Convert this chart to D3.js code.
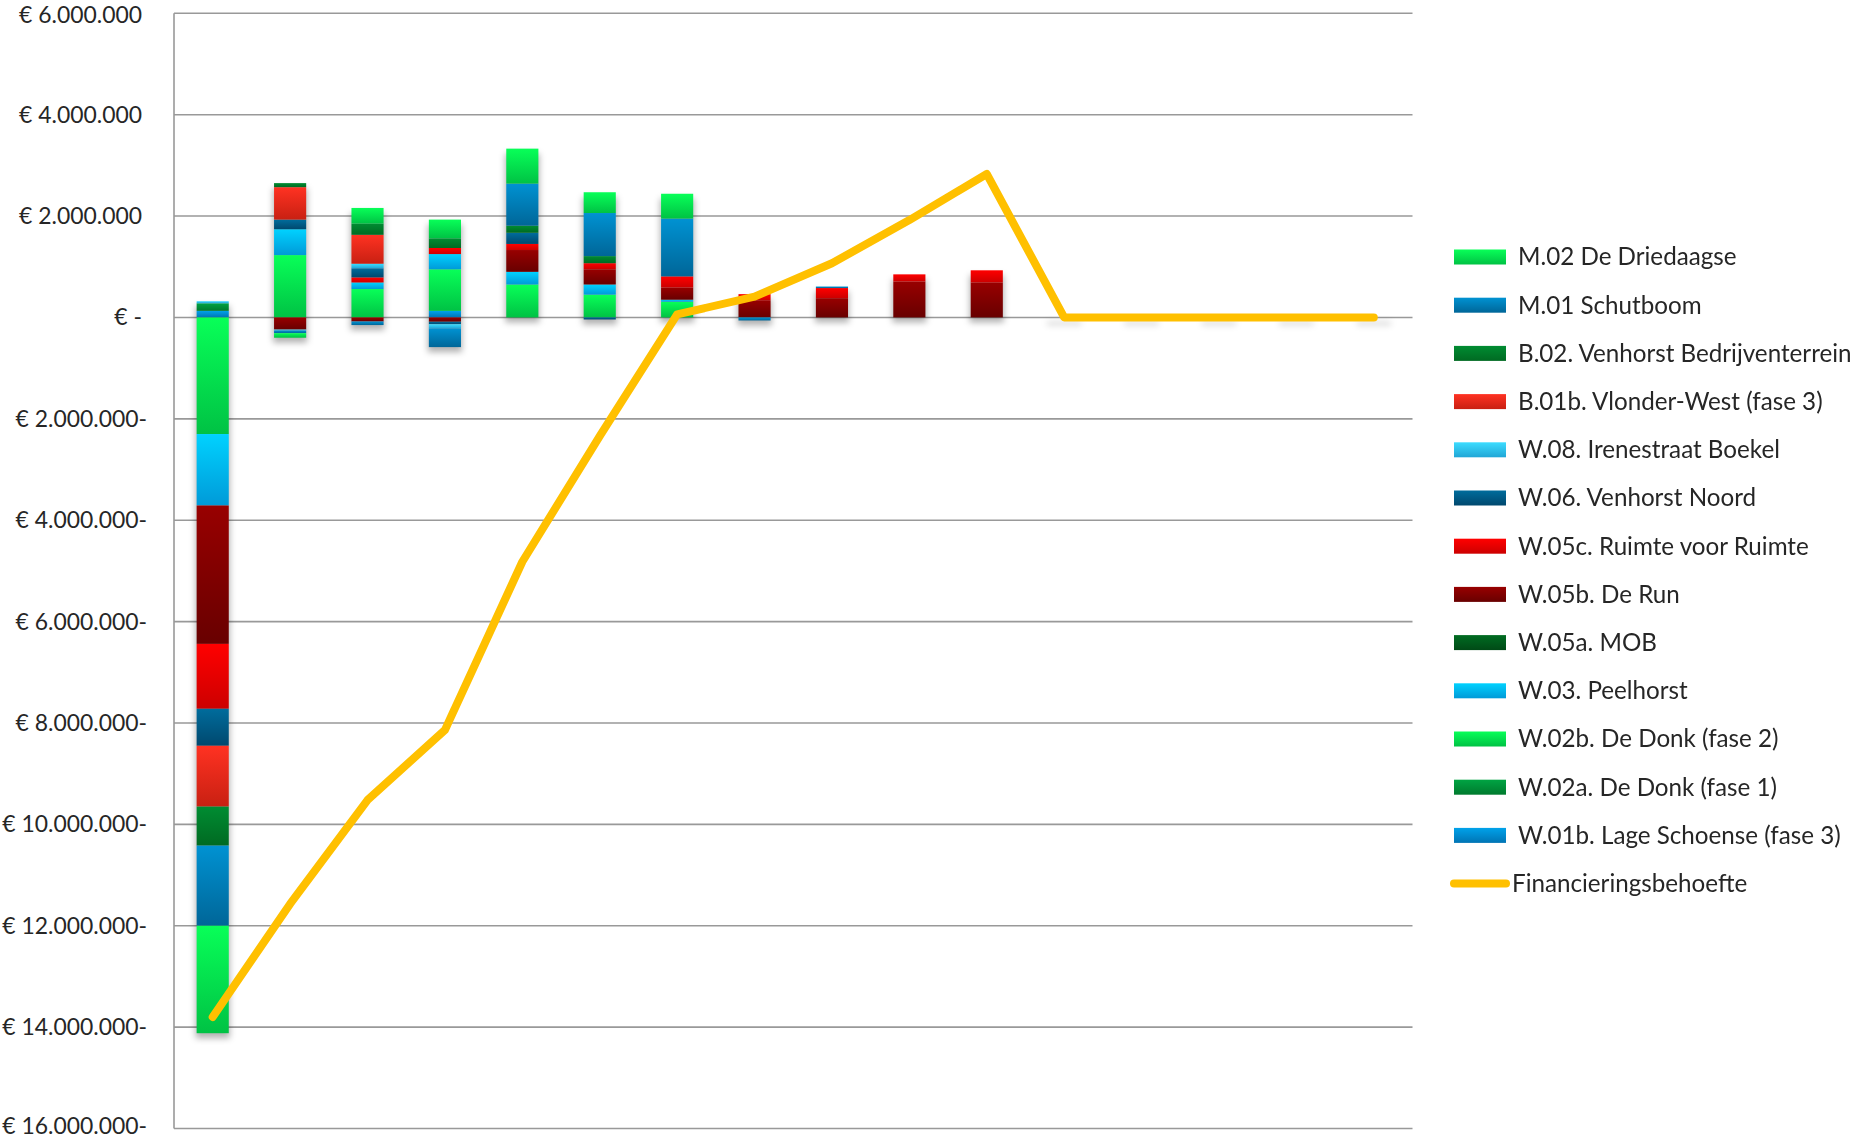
<!DOCTYPE html>
<html>
<head>
<meta charset="utf-8">
<script src="https://cdn.jsdelivr.net/npm/d3@7"></script>
<style>
  html, body { margin: 0; padding: 0; background: #fff; overflow: hidden; }
  svg { display: block; }
  text { font-family: Lato, "Open Sans", sans-serif; fill: #262626; }
</style>
</head>
<body>
<svg id="chart" width="1858" height="1140"></svg>
<script>
// Periods along the horizontal axis (not labelled on the chart)
const periods = ["1","2","3","4","5","6","7","8","9","10","11","12","13","14","15","16"];

// Yearly result per plan, in euro (positive = income, negative = costs)
const W01b = [ 130000,       0,       0,  130000,       0,       0,       0,      0,     0,      0,      0, 0,0,0,0,0];
const W02a = [ 150000,       0,       0,       0,       0,       0,       0,      0,     0,      0,      0, 0,0,0,0,0];
const W02b = [-2300000, 1230000,  560000,  820000,  650000,  450000,  310000,      0,     0,      0,      0, 0,0,0,0,0];
const W03  = [-1410000,  510000,  130000,  300000,  250000,  200000,   40000,      0,     0,      0,      0, 0,0,0,0,0];
const W05a = [       0,       0,       0,       0,       0,       0,       0,      0,     0,      0,      0, 0,0,0,0,0];
const W05b = [-2730000, -240000,  -80000,  -85000,  430000,  300000,  240000, 340000,380000, 710000, 690000, 0,0,0,0,0];
const W05c = [-1280000,       0,  100000,  120000,  120000,  120000,  220000, 120000,200000, 140000, 240000, 0,0,0,0,0];
const W06  = [ -730000,  190000,  180000,  -50000,  220000,  -40000,       0,      0,     0,      0,      0, 0,0,0,0,0];
const W08  = [   40000,  -20000,   90000,  -80000,       0,       0,       0,      0,     0,      0,      0, 0,0,0,0,0];
const B01b = [-1200000,  640000,  570000,       0,       0,       0,       0,      0,     0,      0,      0, 0,0,0,0,0];
const B02  = [ -770000,   80000,  220000,  190000,  140000,  140000,       0,      0,     0,      0,      0, 0,0,0,0,0];
const M01  = [-1580000,  -50000,  -70000, -370000,  830000,  850000, 1140000, -60000, 30000,      0,      0, 0,0,0,0,0];
const M02  = [-2120000,  -90000,  310000,  370000,  690000,  410000,  490000,      0,     0,      0,      0, 0,0,0,0,0];

// Cumulative financing need
const financing = [-13800000, -11570000, -9520000, -8140000, -4820000, -2340000, 60000, 410000, 1070000, 1920000, 2830000, 0, 0, 0, 0, 0];

// Y axis ticks
const yTicks = [6e6, 4e6, 2e6, 0, -2e6, -4e6, -6e6, -8e6, -10e6, -12e6, -14e6, -16e6];

// Series in stacking order, with names and gradient colours
const seriesKeys   = ["W01b","W02a","W02b","W03","W05a","W05b","W05c","W06","W08","B01b","B02","M01","M02"];
const seriesValues = [W01b, W02a, W02b, W03, W05a, W05b, W05c, W06, W08, B01b, B02, M01, M02];
const seriesNames  = [
  "W.01b. Lage Schoense (fase 3)", "W.02a. De Donk (fase 1)", "W.02b. De Donk (fase 2)",
  "W.03. Peelhorst", "W.05a. MOB", "W.05b. De Run", "W.05c. Ruimte voor Ruimte",
  "W.06. Venhorst Noord", "W.08. Irenestraat Boekel", "B.01b. Vlonder-West (fase 3)",
  "B.02. Venhorst Bedrijventerrein", "M.01 Schutboom", "M.02 De Driedaagse"
];
const seriesTop    = ["#00a2ea","#00a443","#08ff58","#00d2ff","#006c22","#980000","#ff0000","#006c9c","#3cdcff","#ff3222","#008c32","#0092d2","#08ff58"];
const seriesBottom = ["#0074b4","#007a2e","#00c244","#009ad8","#004a16","#680000","#cc0000","#00486e","#20a6d6","#c82012","#006a22","#006698","#00c244"];
const lineColor = "#ffc000";

const table = periods.map((p, i) => {
  const row = { period: p };
  seriesKeys.forEach((k, s) => { row[k] = seriesValues[s][i]; });
  return row;
});

const svg = d3.select("#chart");
const defs = svg.append("defs");

const plot = { left: 174, right: 1412.5, top: 13.3, bottom: 1128.5 };

const y = d3.scaleLinear().domain([-16e6, 6e6]).range([plot.bottom, plot.top]);
const x = d3.scaleBand().domain(periods).range([plot.left, plot.right])
  .paddingInner(0.585).paddingOuter(0.2925);

// Vertical gradients for every series
seriesKeys.forEach((k, s) => {
  const g = defs.append("linearGradient").attr("id", "grad-" + k)
    .attr("x1", 0).attr("y1", 0).attr("x2", 0).attr("y2", 1);
  g.append("stop").attr("offset", "0%").attr("stop-color", seriesTop[s]);
  g.append("stop").attr("offset", "100%").attr("stop-color", seriesBottom[s]);
});
defs.append("filter").attr("id", "soft").attr("x", "-50%").attr("y", "-50%").attr("width", "200%").attr("height", "200%")
  .append("feGaussianBlur").attr("stdDeviation", 3);

// Gridlines
svg.append("g").selectAll("line").data(yTicks).join("line")
  .attr("x1", plot.left).attr("x2", plot.right)
  .attr("y1", d => y(d)).attr("y2", d => y(d))
  .attr("stroke", "#999").attr("stroke-width", 1.6);

// Value axis line
svg.append("line")
  .attr("x1", plot.left).attr("x2", plot.left)
  .attr("y1", y(6e6)).attr("y2", y(-16e6))
  .attr("stroke", "#999").attr("stroke-width", 1.6);

// Tick labels: Dutch thousands separator, negatives with trailing minus
const fmt = d3.formatLocale({ decimal: ",", thousands: ".", grouping: [3], currency: ["€ ", ""] }).format(",.0f");
const labelRight = 147;
const [yMin, yMax] = y.domain();
svg.append("g").selectAll("text").data(yTicks).join("text")
  .attr("x", d => d < 0 ? labelRight : labelRight - 5)
  .attr("y", d => y(d) + (d === yMax ? 2 : d === yMin ? -3 : 0))
  .attr("dy", "0.35em")
  .attr("text-anchor", "end")
  .attr("font-size", 22.9)
  .text(d => d === 0 ? "€ -" : d < 0 ? "€ " + fmt(-d) + "-" : "€ " + fmt(d));

// Stacked columns
const stack = d3.stack().keys(seriesKeys).offset(d3.stackOffsetDiverging);
const layers = stack(table);

// Soft shadow under each column
const extents = table.map((row, i) => {
  let lo = 0, hi = 0;
  layers.forEach(l => { lo = Math.min(lo, l[i][0], l[i][1]); hi = Math.max(hi, l[i][0], l[i][1]); });
  return { period: row.period, lo, hi };
});
svg.append("g").attr("filter", "url(#soft)").selectAll("rect").data(extents).join("rect")
  .attr("x", d => x(d.period) - 1)
  .attr("width", x.bandwidth() + 2)
  .attr("y", d => y(d.hi) + 5)
  .attr("height", d => Math.max(2, y(d.lo) - y(d.hi)))
  .attr("fill", "#000").attr("opacity", 0.3);

svg.append("g").selectAll("g").data(layers).join("g")
  .attr("fill", d => "url(#grad-" + d.key + ")")
  .selectAll("rect").data(d => d.filter(s => s[1] !== s[0]).map(s => ({ s, period: s.data.period })))
  .join("rect")
  .attr("x", d => x(d.period))
  .attr("width", x.bandwidth())
  .attr("y", d => y(Math.max(d.s[0], d.s[1])))
  .attr("height", d => Math.abs(y(d.s[0]) - y(d.s[1])));

// Financing line
const line = d3.line()
  .x((d, i) => x(periods[i]) + x.bandwidth() / 2)
  .y(d => y(d));
svg.append("path").datum(financing)
  .attr("d", line)
  .attr("fill", "none")
  .attr("stroke", lineColor)
  .attr("stroke-width", 8)
  .attr("stroke-linejoin", "round")
  .attr("stroke-linecap", "round");

// Legend
const legendItems = seriesKeys.map((k, s) => ({ key: k, name: seriesNames[s] })).reverse();
const legend = svg.append("g");
const rowY = i => 257 + i * 48.2;
legend.selectAll("rect").data(legendItems).join("rect")
  .attr("x", 1454).attr("y", (d, i) => rowY(i) - 7.5)
  .attr("width", 52).attr("height", 15)
  .attr("fill", d => "url(#grad-" + d.key + ")");
legend.selectAll("text.item").data(legendItems).join("text")
  .attr("class", "item")
  .attr("x", 1518).attr("y", (d, i) => rowY(i))
  .attr("dy", "0.35em")
  .attr("font-size", 24.2)
  .text(d => d.name);
const lineRow = rowY(legendItems.length);
legend.append("line")
  .attr("x1", 1454).attr("x2", 1506)
  .attr("y1", lineRow).attr("y2", lineRow)
  .attr("stroke", lineColor).attr("stroke-width", 8).attr("stroke-linecap", "round");
legend.append("text")
  .attr("x", 1512).attr("y", lineRow).attr("dy", "0.35em")
  .attr("font-size", 24.2)
  .text("Financieringsbehoefte");
</script>
</body>
</html>
